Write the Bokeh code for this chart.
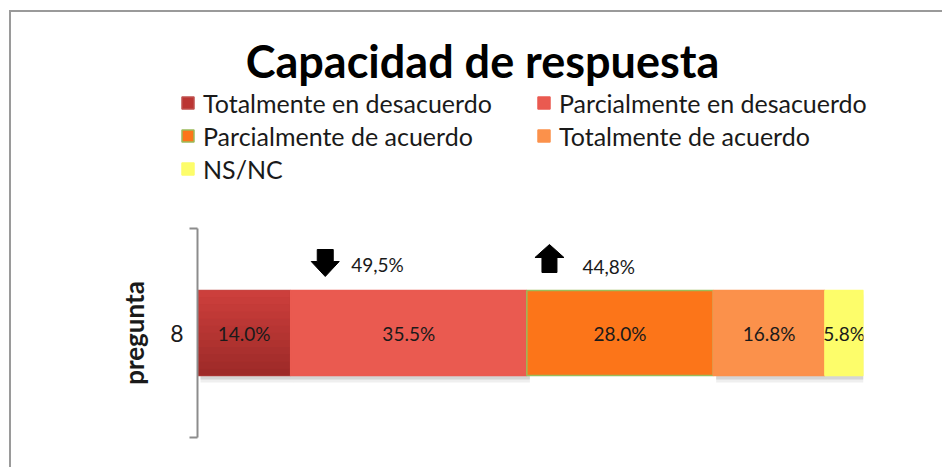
from bokeh.plotting import figure
from bokeh.models import (ColumnDataSource, Range1d, FixedTicker, Legend, LegendItem, Label)
from bokeh.core.properties import value
from bokeh.embed import file_html
from bokeh.resources import INLINE

# ---- data ----
categories = ["Totalmente en desacuerdo", "Parcialmente en desacuerdo",
              "Parcialmente de acuerdo", "Totalmente de acuerdo", "NS/NC"]
values = [14.0, 35.5, 28.0, 16.8, 5.8]
question = "8"
colors = ["#bb3533", "#ea5a50", "#fc7519", "#fb914b", "#fdfd6a"]
border_colors = ["#c0504d", "#ea5a50", "#9bbb59", "#fb914b", "#fdfd6a"]
title_text = "Capacidad de respuesta"
axis_title = "pregunta"

FONT = "Lato"
OX, OY = 11, 12          # content origin on page
W = 931
T = 208                   # header figure height
H2 = 247                  # chart figure height
total = sum(values)
EDGE = "#9a9a9a"

lefts, rights = [], []
acc = 0.0
for v in values:
    lefts.append(acc)
    acc += v
    rights.append(acc)
centers = [(l + r) / 2 for l, r in zip(lefts, rights)]

src = ColumnDataSource(dict(left=lefts, right=rights, color=colors, lc=border_colors,
                            cat=categories, cx=centers,
                            lab=[f"{v:.1f}%" for v in values]))

# ---------------- header figure: title + legend ----------------
ph = figure(width=W, height=T, output_backend="svg", toolbar_location=None, title=None,
            x_range=Range1d(0, W), y_range=Range1d(0, T), min_border=0)
ph.axis.visible = False
ph.grid.visible = False
ph.outline_line_color = None
ph.styles = {"margin-left": f"{OX}px", "margin-top": f"{OY}px",
             "box-shadow": f"-2px 0 0 0 {EDGE}, 0 -2px 0 0 {EDGE}, -2px -2px 0 0 {EDGE}"}
ph.add_layout(Label(x=482 - OX, y=T - (60 - OY), x_units="screen", y_units="screen",
                    text=title_text, text_align="center", text_baseline="alphabetic",
                    text_font=FONT, text_font_style="bold", text_font_size="45px",
                    text_color="black"))

# legend proxy: same bar data, renderer hidden (only its legend glyphs are shown)
proxy = ph.hbar(y=T / 2, height=1, left="left", right="right", source=src,
                fill_color="color", line_color="lc", line_width=1.5)
proxy.visible = False
legend = Legend(items=[LegendItem(label=c, renderers=[proxy], index=i) for i, c in enumerate(categories)],
                location=(180 - OX, T - (183.5 - OY)), orientation="horizontal", ncols=2,
                glyph_width=15, glyph_height=15, label_standoff=8,
                label_text_font=FONT, label_text_font_size="25px", label_text_color="#1a1a1a",
                label_height=30, label_width=330, spacing=3, padding=0, margin=0,
                inactive_fill_alpha=0,
                border_line_color=None, background_fill_alpha=0)
ph.add_layout(legend, "center")

# ---------------- chart figure ----------------
FL = 197 - OX
FW = 666
FH = 209
p = figure(width=W, height=H2, output_backend="svg", toolbar_location=None, title=None,
           x_range=Range1d(0, total), y_range=Range1d(0, 1),
           min_border_left=FL, min_border_right=W - FL - FW,
           min_border_top=8, min_border_bottom=H2 - 8 - FH)
p.outline_line_color = None
p.grid.visible = False
p.xaxis.visible = False
p.styles = {"margin-left": f"{OX}px", "box-shadow": f"-2px 0 0 0 {EDGE}"}

dx = total / FW
dy = 1.0 / FH
Y0 = 0.5
BAR_H = 85 * dy

# soft shadow under bars
shadow_alpha = [1, 1, 0, 1, 1]
sh = ColumnDataSource(dict(left=[l + 3 * dx for l in lefts], right=[r + 3 * dx for r in rights],
                           a=[0.22 * a for a in shadow_alpha], b=[0.12 * a for a in shadow_alpha]))
p.hbar(y=Y0 - 7 * dy, height=BAR_H, left="left", right="right", source=sh,
       fill_color="#7a7a7a", fill_alpha="b", line_color=None)
p.hbar(y=Y0 - 4 * dy, height=BAR_H, left="left", right="right", source=sh,
       fill_color="#7a7a7a", fill_alpha="a", line_color=None)

bars = p.hbar(y=Y0, height=BAR_H, left="left", right="right", source=src,
              fill_color="color", line_color="lc", line_width=1.5)

# gradient overlay on first segment
top_c = (0xcf, 0x40, 0x3d)
bot_c = (0x9c, 0x2a, 0x28)
n = 12
for i in range(n):
    t = (i + 0.5) / n
    c = tuple(int(top_c[k] + (bot_c[k] - top_c[k]) * t) for k in range(3))
    yc = Y0 + BAR_H / 2 - (i + 0.5) * BAR_H / n
    p.hbar(y=yc, height=BAR_H / n * 1.05, left=lefts[0] + 0.8 * dx, right=rights[0] - 0.8 * dx,
           fill_color="#%02x%02x%02x" % c, line_color=None)

p.text(x="cx", y=Y0, text="lab", source=src, text_align="center", text_baseline="middle",
       text_font=value(FONT), text_font_size="19px", text_color="#1a1a1a")

# summary arrows (disagree / agree totals)
disagree = values[0] + values[1]
agree = values[2] + values[3]
arrow_x = [lefts[1] + 5.2, lefts[2] + 3.4]
frame_bottom_page = 437
down = [(-8, 249), (8, 249), (8, 261), (14, 261), (0, 276), (-14, 261), (-8, 261)]
up = [(-7.5, 272), (7.5, 272), (7.5, 257), (14.5, 257), (0, 244), (-14.5, 257), (-7.5, 257)]
xs, ys = [], []
for shape, ax in [(down, arrow_x[0]), (up, arrow_x[1])]:
    xs.append([ax + a * dx for a, b in shape])
    ys.append([(frame_bottom_page - b) * dy for a, b in shape])
p.patches(xs, ys, fill_color="black", line_color="black")

sum_src = ColumnDataSource(dict(x=[arrow_x[0] + 26 * dx, arrow_x[1] + 33 * dx],
                                y=[(frame_bottom_page - 264) * dy, (frame_bottom_page - 266) * dy],
                                t=[f"{disagree:.1f}%".replace(".", ","), f"{agree:.1f}%".replace(".", ",")]))
p.text(x="x", y="y", text="t", source=sum_src, text_align="left", text_baseline="middle",
       text_font=value(FONT), text_font_size="19px", text_color="#1a1a1a")

# y axis
yax = p.yaxis[0]
yax.ticker = FixedTicker(ticks=[Y0], minor_ticks=[0, 1])
yax.major_label_overrides = {Y0: question}
yax.major_tick_line_color = None
yax.major_tick_out = 0
yax.minor_tick_out = 8
yax.minor_tick_in = 0
yax.minor_tick_line_color = "#8c8c8c"
yax.minor_tick_line_width = 2
yax.axis_line_color = "#8c8c8c"
yax.axis_line_width = 2
yax.major_label_text_font = FONT
yax.major_label_text_font_size = "23px"
yax.major_label_text_color = "#1a1a1a"
yax.major_label_standoff = 6
yax.axis_label = axis_title
yax.axis_label_text_font = FONT
yax.axis_label_text_font_style = "bold"
yax.axis_label_text_font_size = "26px"
yax.axis_label_text_color = "#1a1a1a"
yax.axis_label_standoff = 17

open("out.html", "w").write(file_html([ph, p], INLINE))
